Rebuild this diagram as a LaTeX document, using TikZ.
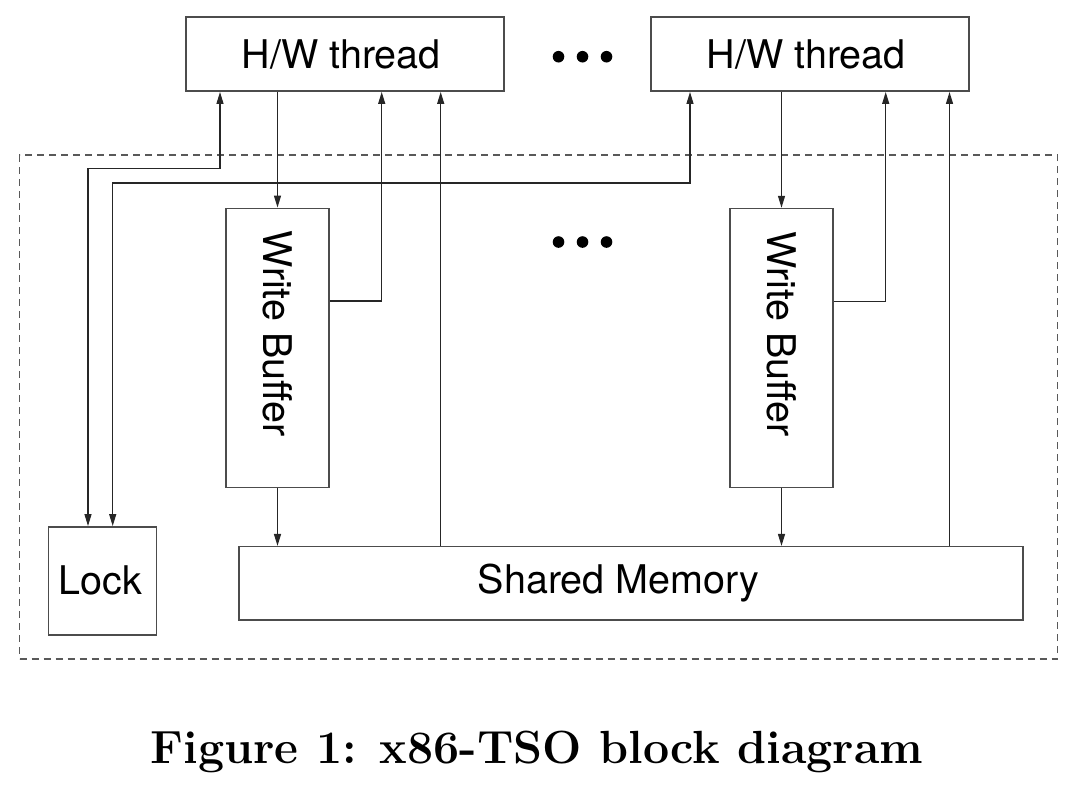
\documentclass[tikz,border=0pt]{standalone}
\usepackage{fontspec}
\newfontfamily\helv{TeX Gyre Heros}
\usetikzlibrary{arrows.meta}

\begin{document}
\begin{tikzpicture}[x=1pt, y=-1pt, >={Triangle[length=12pt,width=7pt]},
    box/.style = {draw=black!70, line width=1.5pt, rectangle, inner sep=0pt, font={\helv\fontsize{39.5}{47}\selectfont}},
    link/.style = {draw=black!85, line width=1.3pt},
    tso/.style = {draw=black!65, line width=1.3pt, dash pattern=on 7pt off 5pt, inner sep=0pt}]
\useasboundingbox (0,0) rectangle (1083,785);

% outer dashed frame
\node[tso, minimum width=1038pt, minimum height=504pt] (TSO) at (538.5,407) {};

\node[box, minimum width=318pt, minimum height=74pt] (T1) at (345.2,54.2) {H/W thread\hspace*{8pt}};
\node[box, minimum width=318pt, minimum height=74pt] (T2) at (810.2,54.2) {H/W thread\hspace*{8pt}};
\node[box, minimum width=103pt, minimum height=279pt] (WB1) at (277.5,347.8) {\rotatebox{-90}{Write Buffer\hspace*{28pt}}};
\node[box, minimum width=103pt, minimum height=279pt] (WB2) at (781.5,348) {\rotatebox{-90}{Write Buffer\hspace*{28pt}}};
\node[box, minimum width=108pt, minimum height=108pt] (L) at (102.7,580.8) {Lock\hspace*{5pt}};
\node[box, minimum width=784pt, minimum height=73.3pt] (M) at (631,583.3) {Shared Memory\hspace*{25pt}};

% the dots
\foreach \dy in {56.7,242} {
  \foreach \dx in {-24,0,24}
    \fill (582.5+\dx,\dy) circle (5.8);
}

% ports on the threads
\coordinate (T1l) at ([xshift=-125.2pt]T1.south);
\coordinate (T1b) at ([xshift=36.5pt]T1.south);
\coordinate (T1m) at ([xshift=95.5pt]T1.south);
\coordinate (T2l) at ([xshift=-120.2pt]T2.south);
\coordinate (T2b) at ([xshift=75.5pt]T2.south);
\coordinate (T2m) at ([xshift=139.3pt]T2.south);

\draw[link, <->] ([xshift=-14.7pt]L.north) -- ++(0,-357.7) -| (T1l);
\draw[link, <->] ([xshift=10pt]L.north) -- ++(0,-343) -| (T2l);

\draw[link, ->] (T1.south -| WB1.north) -- (WB1.north);
\draw[link, ->] ([yshift=46.8pt]WB1.east) -| (T1b);
\draw[link, ->] (T1m |- M.north) -- (T1m);
\draw[link, ->] (WB1.south) -- (WB1.south |- M.north);

\draw[link, ->] (T2.south -| WB2.north) -- (WB2.north);
\draw[link, ->] ([yshift=46.3pt]WB2.east) -| (T2b);
\draw[link, ->] (T2m |- M.north) -- (T2m);
\draw[link, ->] (WB2.south) -- (WB2.south |- M.north);

\node[font={\fontsize{46.5}{55}\selectfont\bfseries}, anchor=base] (cap) at (537,763) {Figure 1: x86-TSO block diagram};
\end{tikzpicture}
\end{document}
